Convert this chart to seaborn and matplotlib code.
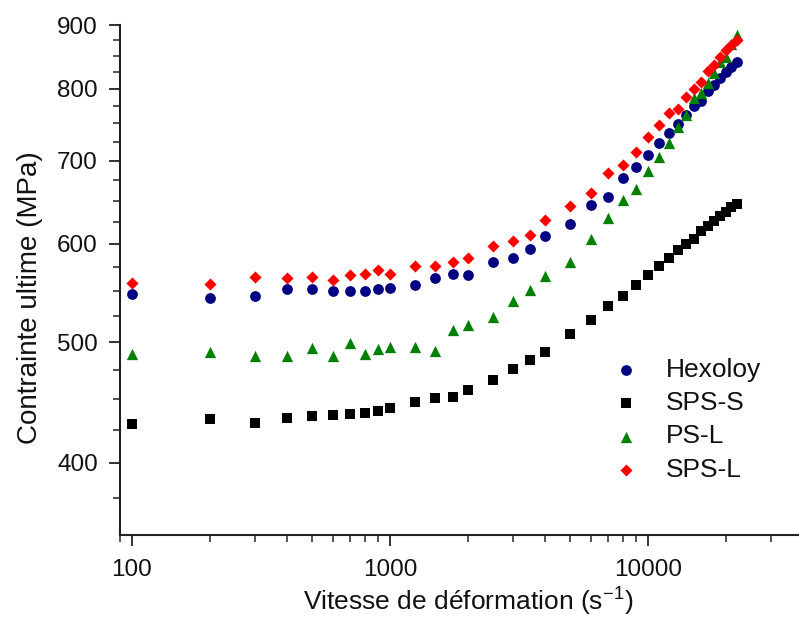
import pandas as pd
import seaborn as sns
import matplotlib.pyplot as plt
from matplotlib.ticker import FixedLocator, NullFormatter, LogLocator

# Strain rate (s^-1) common to all series
strain_rate = [100, 200, 300, 400, 500, 600, 700, 800, 900, 1000, 1250, 1500, 1750,
               2000, 2500, 3000, 3500, 4000, 5000, 6000, 7000, 8000, 9000, 10000,
               11000, 12000, 13000, 14000, 15000, 16000, 17000, 18000, 19000, 20000,
               21000, 22000]

# Ultimate stress (MPa)
hexoloy = [547, 543, 545, 552, 552, 550, 550, 550, 552, 553, 556, 563, 568, 566, 580,
           585, 594, 609, 623, 645, 655, 678, 692, 708, 723, 737, 749, 762, 775, 782,
           796, 805, 816, 825, 833, 841]
sps_s = [430, 434, 431, 435, 436, 437, 438, 439, 440, 443, 448, 451, 452, 458, 466,
         476, 484, 491, 508, 521, 535, 545, 556, 566, 576, 585, 593, 600, 606, 614,
         620, 626, 632, 637, 642, 646]
ps_l = [489, 491, 488, 488, 495, 488, 499, 489, 494, 496, 496, 492, 512, 516, 524,
        540, 551, 565, 580, 606, 629, 651, 664, 687, 705, 724, 745, 762, 786, 794,
        808, 823, 841, 848, 869, 884]
sps_l = [558, 557, 564, 563, 564, 561, 566, 568, 572, 567, 576, 576, 580, 585, 598,
         603, 610, 627, 644, 659, 684, 694, 712, 732, 748, 764, 770, 787, 800, 810,
         826, 836, 849, 859, 867, 875]

labels = ['Hexoloy', 'SPS-S', 'PS-L', 'SPS-L']
colors = ['#000080', '#000000', '#008000', '#ff0000']
markers = ['o', 's', '^', 'D']
sizes = [60, 44, 66, 38]

y_major = [400, 500, 600, 700, 800, 900]
y_minor = [375, 425, 450, 475, 525, 550, 575, 625, 650, 675, 725, 750, 775, 825, 850, 875]

df = pd.DataFrame({'rate': strain_rate, 'Hexoloy': hexoloy, 'SPS-S': sps_s,
                   'PS-L': ps_l, 'SPS-L': sps_l})
long_df = df.melt(id_vars='rate', var_name='material', value_name='stress')

sns.set_style('ticks')
plt.rcParams['font.family'] = ['Liberation Sans', 'DejaVu Sans']
plt.rcParams['mathtext.fontset'] = 'custom'
plt.rcParams['mathtext.rm'] = 'Liberation Sans'
plt.rcParams['mathtext.default'] = 'rm'
plt.rcParams['text.color'] = '#111111'
plt.rcParams['axes.labelcolor'] = '#111111'
plt.rcParams['xtick.labelcolor'] = '#111111'
plt.rcParams['ytick.labelcolor'] = '#111111'

fig = plt.figure(figsize=(7.99, 6.26), dpi=100)
ax = fig.add_axes([120 / 799, 1 - 535 / 626, 679 / 799, 510 / 626])

for name, col, mk, sz in zip(labels, colors, markers, sizes):
    sub = long_df[long_df['material'] == name]
    sns.scatterplot(data=sub, x='rate', y='stress', ax=ax, color=col, marker=mk,
                    s=sz, linewidth=0, label=name)

ax.set_xscale('log')
ax.set_yscale('log')
ax.set_xlim(90, 38400)
ax.set_ylim(350, 900)

ax.xaxis.set_major_locator(FixedLocator([100, 1000, 10000]))
ax.xaxis.set_major_formatter(plt.FixedFormatter(['100', '1000', '10000']))
ax.xaxis.set_minor_locator(LogLocator(base=10, subs=range(2, 10)))
ax.xaxis.set_minor_formatter(NullFormatter())
ax.yaxis.set_major_locator(FixedLocator(y_major))
ax.yaxis.set_major_formatter(plt.FixedFormatter([str(v) for v in y_major]))
ax.yaxis.set_minor_locator(FixedLocator(y_minor))
ax.yaxis.set_minor_formatter(NullFormatter())

ax.tick_params(which='major', direction='out', length=8, width=1.3, labelsize=17.5,
               color='#222222')
ax.tick_params(which='minor', direction='out', length=5, width=1.1, color='#222222')
ax.tick_params(axis='x', which='major', pad=9)
ax.tick_params(axis='y', which='major', pad=8)

sns.despine(ax=ax)
for sp in ['left', 'bottom']:
    ax.spines[sp].set_linewidth(1.5)
    ax.spines[sp].set_color('#222222')

ax.set_xlabel('Vitesse de déformation (s$^{-1}$)', fontsize=19)
ax.set_ylabel('Contrainte ultime (MPa)', fontsize=20)
ax.xaxis.set_label_coords(0.5125, -0.1)
ax.yaxis.set_label_coords(-0.113, 0.465)

ax.legend(loc='upper left', bbox_to_anchor=(613 / 799, 1 - 358 / 626),
          bbox_transform=fig.transFigure, frameon=False, fontsize=19,
          handlelength=1.0, handletextpad=1.0, labelspacing=0.35, borderpad=0,
          borderaxespad=0)

fig.savefig('out.png', dpi=100)
